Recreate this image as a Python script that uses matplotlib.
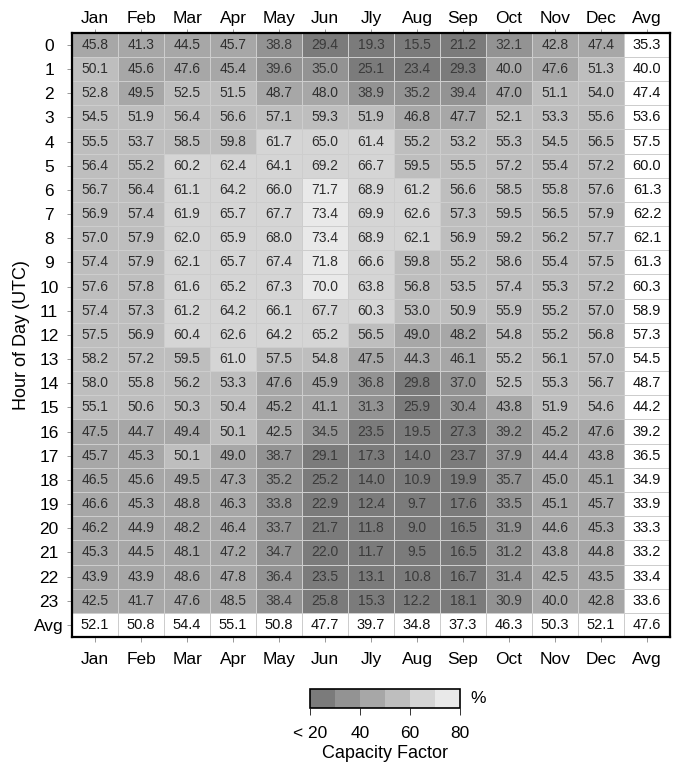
import matplotlib
matplotlib.use('Agg')
import matplotlib.pyplot as plt
import numpy as np
from matplotlib.colors import ListedColormap, BoundaryNorm
import matplotlib.colorbar as mcolorbar

plt.rcParams['font.family'] = ['Liberation Sans', 'DejaVu Sans']

#---------------------------------------- DATA ----------------------------------------
months = ['Jan', 'Feb', 'Mar', 'Apr', 'May', 'Jun', 'Jly', 'Aug', 'Sep', 'Oct', 'Nov', 'Dec']
hours = [str(h) for h in range(24)]

cf = [
    [45.8, 41.3, 44.5, 45.7, 38.8, 29.4, 19.3, 15.5, 21.2, 32.1, 42.8, 47.4],
    [50.1, 45.6, 47.6, 45.4, 39.6, 35.0, 25.1, 23.4, 29.3, 40.0, 47.6, 51.3],
    [52.8, 49.5, 52.5, 51.5, 48.7, 48.0, 38.9, 35.2, 39.4, 47.0, 51.1, 54.0],
    [54.5, 51.9, 56.4, 56.6, 57.1, 59.3, 51.9, 46.8, 47.7, 52.1, 53.3, 55.6],
    [55.5, 53.7, 58.5, 59.8, 61.7, 65.0, 61.4, 55.2, 53.2, 55.3, 54.5, 56.5],
    [56.4, 55.2, 60.2, 62.4, 64.1, 69.2, 66.7, 59.5, 55.5, 57.2, 55.4, 57.2],
    [56.7, 56.4, 61.1, 64.2, 66.0, 71.7, 68.9, 61.2, 56.6, 58.5, 55.8, 57.6],
    [56.9, 57.4, 61.9, 65.7, 67.7, 73.4, 69.9, 62.6, 57.3, 59.5, 56.5, 57.9],
    [57.0, 57.9, 62.0, 65.9, 68.0, 73.4, 68.9, 62.1, 56.9, 59.2, 56.2, 57.7],
    [57.4, 57.9, 62.1, 65.7, 67.4, 71.8, 66.6, 59.8, 55.2, 58.6, 55.4, 57.5],
    [57.6, 57.8, 61.6, 65.2, 67.3, 70.0, 63.8, 56.8, 53.5, 57.4, 55.3, 57.2],
    [57.4, 57.3, 61.2, 64.2, 66.1, 67.7, 60.3, 53.0, 50.9, 55.9, 55.2, 57.0],
    [57.5, 56.9, 60.4, 62.6, 64.2, 65.2, 56.5, 49.0, 48.2, 54.8, 55.2, 56.8],
    [58.2, 57.2, 59.5, 61.0, 57.5, 54.8, 47.5, 44.3, 46.1, 55.2, 56.1, 57.0],
    [58.0, 55.8, 56.2, 53.3, 47.6, 45.9, 36.8, 29.8, 37.0, 52.5, 55.3, 56.7],
    [55.1, 50.6, 50.3, 50.4, 45.2, 41.1, 31.3, 25.9, 30.4, 43.8, 51.9, 54.6],
    [47.5, 44.7, 49.4, 50.1, 42.5, 34.5, 23.5, 19.5, 27.3, 39.2, 45.2, 47.6],
    [45.7, 45.3, 50.1, 49.0, 38.7, 29.1, 17.3, 14.0, 23.7, 37.9, 44.4, 43.8],
    [46.5, 45.6, 49.5, 47.3, 35.2, 25.2, 14.0, 10.9, 19.9, 35.7, 45.0, 45.1],
    [46.6, 45.3, 48.8, 46.3, 33.8, 22.9, 12.4, 9.7, 17.6, 33.5, 45.1, 45.7],
    [46.2, 44.9, 48.2, 46.4, 33.7, 21.7, 11.8, 9.0, 16.5, 31.9, 44.6, 45.3],
    [45.3, 44.5, 48.1, 47.2, 34.7, 22.0, 11.7, 9.5, 16.5, 31.2, 43.8, 44.8],
    [43.9, 43.9, 48.6, 47.8, 36.4, 23.5, 13.1, 10.8, 16.7, 31.4, 42.5, 43.5],
    [42.5, 41.7, 47.6, 48.5, 38.4, 25.8, 15.3, 12.2, 18.1, 30.9, 40.0, 42.8],
]
avg_hour = [35.3, 40.0, 47.4, 53.6, 57.5, 60.0, 61.3, 62.2, 62.1, 61.3, 60.3, 58.9,
            57.3, 54.5, 48.7, 44.2, 39.2, 36.5, 34.9, 33.9, 33.3, 33.2, 33.4, 33.6]
avg_month = [52.1, 50.8, 54.4, 55.1, 50.8, 47.7, 39.7, 34.8, 37.3, 46.3, 50.3, 52.1]
avg_all = 47.6

levels = [20, 30, 40, 50, 60, 70, 80]
greys = ['#7b7b7b', '#939393', '#a7a7a7', '#bebebe', '#d5d5d5', '#e9e9e9']

#%%------------------------------------- FIGURE ---------------------------------------
cf = np.array(cf)
nrow, ncol = cf.shape

cmap = ListedColormap(greys)
cmap.set_under(greys[0])
cmap.set_over(greys[-1])
norm = BoundaryNorm(levels, cmap.N)

fig = plt.figure(figsize=(6.74, 7.62), dpi=100)
ax = fig.add_axes([0.107, 0.164, 0.887, 0.793])

ax.pcolormesh(np.arange(ncol + 1), np.arange(nrow + 1), cf, cmap=cmap, norm=norm,
              edgecolors='#cdcdcd', linewidth=0.6)

# Avg column and row in white
full = np.full((nrow + 1, ncol + 1), np.nan)
full[:nrow, ncol] = avg_hour
full[nrow, :ncol] = avg_month
full[nrow, ncol] = avg_all
white = np.ma.masked_invalid(full)
ax.pcolormesh(np.arange(ncol + 2), np.arange(nrow + 2), white,
              cmap=ListedColormap(['white']), edgecolors='#cdcdcd', linewidth=0.6)

for i in range(nrow + 1):
    for j in range(ncol + 1):
        is_avg = (i == nrow or j == ncol)
        v = full[i, j] if is_avg else cf[i, j]
        col = '#111111' if is_avg else ('#2e2e2e' if v >= 40 else '#3a3a3a')
        ax.text(j + 0.5, i + 0.5, '%.1f' % v, ha='center', va='center',
                fontsize=10.5 if is_avg else 10, color=col)

ax.set_xlim(0, ncol + 1)
ax.set_ylim(nrow + 1, 0)

xlab = months + ['Avg']
xt = np.arange(ncol + 1) + 0.5
ax.set_xticks(xt)
ax.set_xticklabels(xlab, fontsize=12.5)
ax.tick_params(axis='x', direction='out', length=3.5, width=0.6, color='#888888', pad=7)

top = ax.secondary_xaxis('top')
top.set_xticks(xt)
top.set_xticklabels(xlab, fontsize=12.5)
top.tick_params(direction='out', length=3, width=0.6, color='#888888', pad=2)
top.spines['top'].set_visible(False)

ax.set_yticks(np.arange(nrow + 1) + 0.5)
ax.set_yticklabels(hours + ['Avg'], fontsize=12.5, ha='center')
ax.tick_params(axis='y', direction='out', length=3.5, width=0.6, color='#888888', pad=13)
ax.set_ylabel('Hour of Day (UTC)', fontsize=13)
ax.yaxis.set_label_coords(-0.071, 0.5)

for s in ax.spines.values():
    s.set_linewidth(1.6)

# colorbar
cax = fig.add_axes([0.46, 0.071, 0.222, 0.025])
cb = mcolorbar.ColorbarBase(cax, cmap=cmap, norm=norm, boundaries=levels,
                            orientation='horizontal', ticks=[20, 40, 60, 80])
cb.set_ticklabels(['< 20', '40', '60', '80'])
cb.outline.set_linewidth(1.2)
cax.minorticks_off()
cax.tick_params(labelsize=12.5, length=5, width=0.7, color='#333333', pad=8)
cb.set_label('Capacity Factor', fontsize=13, labelpad=3)
cax.text(1.07, 0.5, '%', transform=cax.transAxes, ha='left', va='center', fontsize=12.5)

plt.savefig('out.png', dpi=100)
